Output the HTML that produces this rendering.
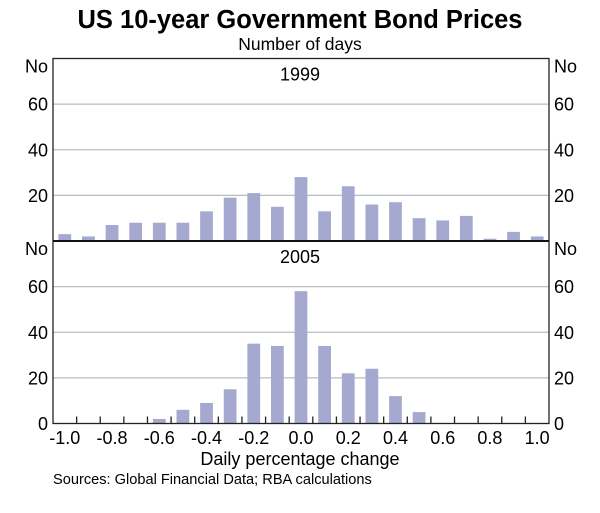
<!DOCTYPE html>
<html><head><meta charset="utf-8"><style>
body{margin:0;background:#fff;width:600px;height:508px;overflow:hidden;font-family:"Liberation Sans",Arial,sans-serif}
</style></head><body>
<svg width="600" height="508" font-family="Liberation Sans, Arial, sans-serif">
<text x="300" y="28" text-anchor="middle" font-size="25.5" font-weight="bold" fill="#000">US 10-year Government Bond Prices</text>
<text x="300" y="50" text-anchor="middle" font-size="17.5" fill="#000">Number of days</text>
<g id="grid"></g>
<g id="bars"></g>
<g id="axes"></g>
<text x="300" y="465" text-anchor="middle" font-size="18">Daily percentage change</text>
<text x="53" y="484" font-size="14.6">Sources: Global Financial Data; RBA calculations</text>
</svg>
<script>
const categories=[-1.0,-0.9,-0.8,-0.7,-0.6,-0.5,-0.4,-0.3,-0.2,-0.1,0.0,0.1,0.2,0.3,0.4,0.5,0.6,0.7,0.8,0.9,1.0];
const values1999=[3,2,7,8,8,8,13,19,21,15,28,13,24,16,17,10,9,11,1,4,2];
const values2005=[0,0,0,0,2,6,9,15,35,34,58,34,22,24,12,5,0,0,0,0,0];
const yTicks=[0,20,40,60];
const xTickLabels=["-1.0","-0.8","-0.6","-0.4","-0.2","0.0","0.2","0.4","0.6","0.8","1.0"];
const xTickValues=[-1.0,-0.8,-0.6,-0.4,-0.2,0.0,0.2,0.4,0.6,0.8,1.0];
const NS="http://www.w3.org/2000/svg";
const L=53,R=549,xMin=-1.05,xMax=1.05;
const x=v=>L+(v-xMin)/(xMax-xMin)*(R-L);
const panels=[{name:'1999',top:58.5,bottom:241,data:values1999},{name:'2005',top:241,bottom:423.5,data:values2005}];
const yMax=80;
function mk(tag,attrs,parent){const e=document.createElementNS(NS,tag);for(const k in attrs)e.setAttribute(k,attrs[k]);document.getElementById(parent).appendChild(e);return e;}
const bw=(R-L)/21*0.54;
panels.forEach((p,pi)=>{
  const y=v=>p.bottom-v/yMax*(p.bottom-p.top);
  yTicks.forEach(t=>{
    if(t>0){const g=mk('line',{x1:L,x2:R,y1:y(t),y2:y(t),stroke:'#b8bcc4','stroke-width':1.2},'grid');
    
    }
    if(pi===1||t>0){
      [[L-5,'end'],[R+5,'start']].forEach(([tx,an])=>{
        const tl=mk('text',{x:tx,y:y(t)+6.5,'text-anchor':an,'font-size':18},'axes');tl.textContent=t;
        
        
      });
    }
  });
  [[L-5,'end'],[R+5,'start']].forEach(([tx,an])=>{
    const n=mk('text',{x:tx,y:p.top+14,'text-anchor':an,'font-size':18},'axes');n.textContent='No';
    
    
  });
  const pt=mk('text',{x:300,y:p.top+22,'text-anchor':'middle','font-size':18},'axes');pt.textContent=p.name;
  
  
  categories.forEach((c,i)=>{
    const v=p.data[i];if(v<=0)return;
    const b=mk('rect',{x:x(c)-bw/2,y:y(v),width:bw,height:p.bottom-y(v),fill:'#a5a8cf'},'bars');
    
    
  });
});
const fr=mk('rect',{x:L,y:58.5,width:R-L,height:423.5-58.5,fill:'none',stroke:'#222','stroke-width':1.3},'axes');


const mid=mk('line',{x1:L,x2:R,y1:241,y2:241,stroke:'#111','stroke-width':2},'axes');


categories.slice(0,-1).forEach(c=>{
  const tx=x(c+0.05);
  const t=mk('line',{x1:tx,x2:tx,y1:423.5,y2:416.5,stroke:'#222','stroke-width':1.3},'axes');
  
  
});
xTickValues.forEach((v,i)=>{
  const t=mk('text',{x:x(v),y:444,'text-anchor':'middle','font-size':18},'axes');t.textContent=xTickLabels[i];
  
  
});
</script>
</body></html>
